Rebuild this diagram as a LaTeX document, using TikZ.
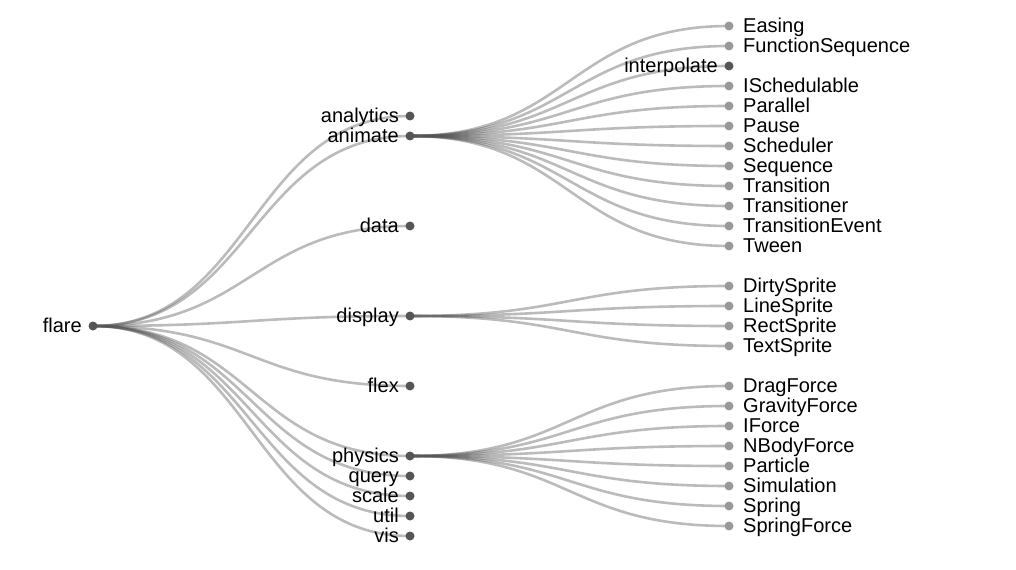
\documentclass[tikz,border=0pt]{standalone}
\usepackage{fontspec}
\setmainfont{Liberation Sans}
\usetikzlibrary{positioning, calc, backgrounds}
\definecolor{darkdot}{RGB}{85,85,85}
\definecolor{leafdot}{RGB}{153,153,153}

\begin{document}
\begin{tikzpicture}[
  x=1bp, y=-1bp,
  inner/.style={circle, fill=darkdot, inner sep=0pt, minimum size=9bp},
  leaf/.style={circle, fill=leafdot, inner sep=0pt, minimum size=9bp},
  lbl/.style={inner sep=0pt, yshift=-6.3bp, font=\fontsize{20.1}{24}\selectfont},
  link/.style={draw=darkdot, draw opacity=0.4, line width=2.6bp,
    to path={.. controls ($(\tikztostart)!.5!(\tikztostart -| \tikztotarget)$)
                     and ($(\tikztotarget)!.5!(\tikztotarget -| \tikztostart)$) .. (\tikztotarget)}}
]
  \useasboundingbox (0,0) rectangle (1016,570);

  % root
  \node[inner] (flare) at (93,326) {};
  \node[lbl, left=11bp of flare.center, anchor=base east] (flare-t) {flare};

  % first level
  \foreach \nm/\y in {analytics/116, animate/136, data/226, display/316, flex/386,
                      physics/456, query/476, scale/496, util/516, vis/536} {
    \node[inner] (\nm) at (410,\y) {};
    \node[lbl, left=11bp of \nm.center, anchor=base east] (\nm-t) {\nm};
    \begin{scope}[on background layer]
      \draw[link] (flare.center) to (\nm.center);
    \end{scope}
  }

  % second level, leaves
  \foreach \src/\nm/\y in {animate/Easing/26, animate/FunctionSequence/46,
      animate/ISchedulable/86, animate/Parallel/106, animate/Pause/126,
      animate/Scheduler/146, animate/Sequence/166, animate/Transition/186,
      animate/Transitioner/206, animate/TransitionEvent/226, animate/Tween/246,
      display/DirtySprite/286, display/LineSprite/306, display/RectSprite/326,
      display/TextSprite/346,
      physics/DragForce/386, physics/GravityForce/406, physics/IForce/426,
      physics/NBodyForce/446, physics/Particle/466, physics/Simulation/486,
      physics/Spring/506, physics/SpringForce/526} {
    \node[leaf] (\nm) at (729,\y) {};
    \node[lbl, right=14bp of \nm.center, anchor=base west] (\nm-t) {\nm};
    \begin{scope}[on background layer]
      \draw[link] (\src.center) to (\nm.center);
    \end{scope}
  }

  % collapsed branch
  \node[inner] (interpolate) at (729,66) {};
  \node[lbl, left=11bp of interpolate.center, anchor=base east] (interpolate-t) {interpolate};
  \begin{scope}[on background layer]
    \draw[link] (animate.center) to (interpolate.center);
  \end{scope}
\end{tikzpicture}
\end{document}
